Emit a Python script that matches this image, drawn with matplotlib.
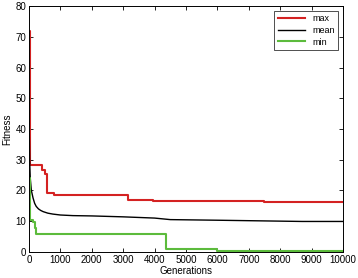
import numpy as np
import matplotlib
matplotlib.use("Agg")
import matplotlib.pyplot as plt

# step series: generation where a new value starts, and that value
max_gen = [0, 40, 410, 500, 570, 800, 3150, 3950, 7500, 10000]
max_val = [72, 28.3, 26.7, 25.5, 19.2, 18.6, 17.0, 16.4, 16.2, 16.2]

mean_gen = [0, 10, 20, 40, 75, 130, 180, 230, 300, 370, 450, 600, 760,
            1000, 1400, 2000, 3000, 4000, 4500, 6000, 8700, 10000]
mean_val = [50, 38, 30, 24, 20, 17.5, 15.8, 14.8, 14.0, 13.5, 13.1, 12.6, 12.3,
            12.0, 11.8, 11.7, 11.4, 11.0, 10.5, 10.3, 9.9, 9.9]

min_gen = [0, 30, 130, 180, 230, 4350, 6000, 10000]
min_val = [24, 10.4, 9.8, 7.8, 5.8, 1.0, 0.3, 0.3]

xticks = np.arange(0, 10001, 1000)
yticks = np.arange(0, 81, 10)

plt.rcParams['font.family'] = ['Liberation Sans', 'DejaVu Sans']
fig = plt.figure(figsize=(3.58, 2.78), dpi=100)
ax = fig.add_axes([0.081, 0.094, 0.877, 0.884])

ax.step(max_gen, max_val, where="post", color="#d42222", lw=1.5, label="max")
ax.plot(mean_gen, mean_val, color="black", lw=1.0, label="mean")
ax.step(min_gen, min_val, where="post", color="#5cbb3c", lw=1.5, label="min")

ax.set_xlim(0, 10000)
ax.set_ylim(0, 80)
ax.set_xticks(xticks)
ax.set_yticks(yticks)
ax.tick_params(direction="in", top=True, right=True, labelsize=7, length=3, width=0.6, pad=2)
for s in ax.spines.values():
    s.set_linewidth(0.7)
ax.set_xlabel("Generations", fontsize=7, labelpad=1)
ax.set_ylabel("Fitness", fontsize=7, labelpad=2)

leg = ax.legend(loc="upper right", fontsize=6.5, frameon=True, fancybox=False,
                handlelength=3, borderaxespad=0.5, labelspacing=0.3)
leg.get_frame().set_edgecolor("black")
leg.get_frame().set_linewidth(0.6)

fig.savefig("out.png", dpi=100)
